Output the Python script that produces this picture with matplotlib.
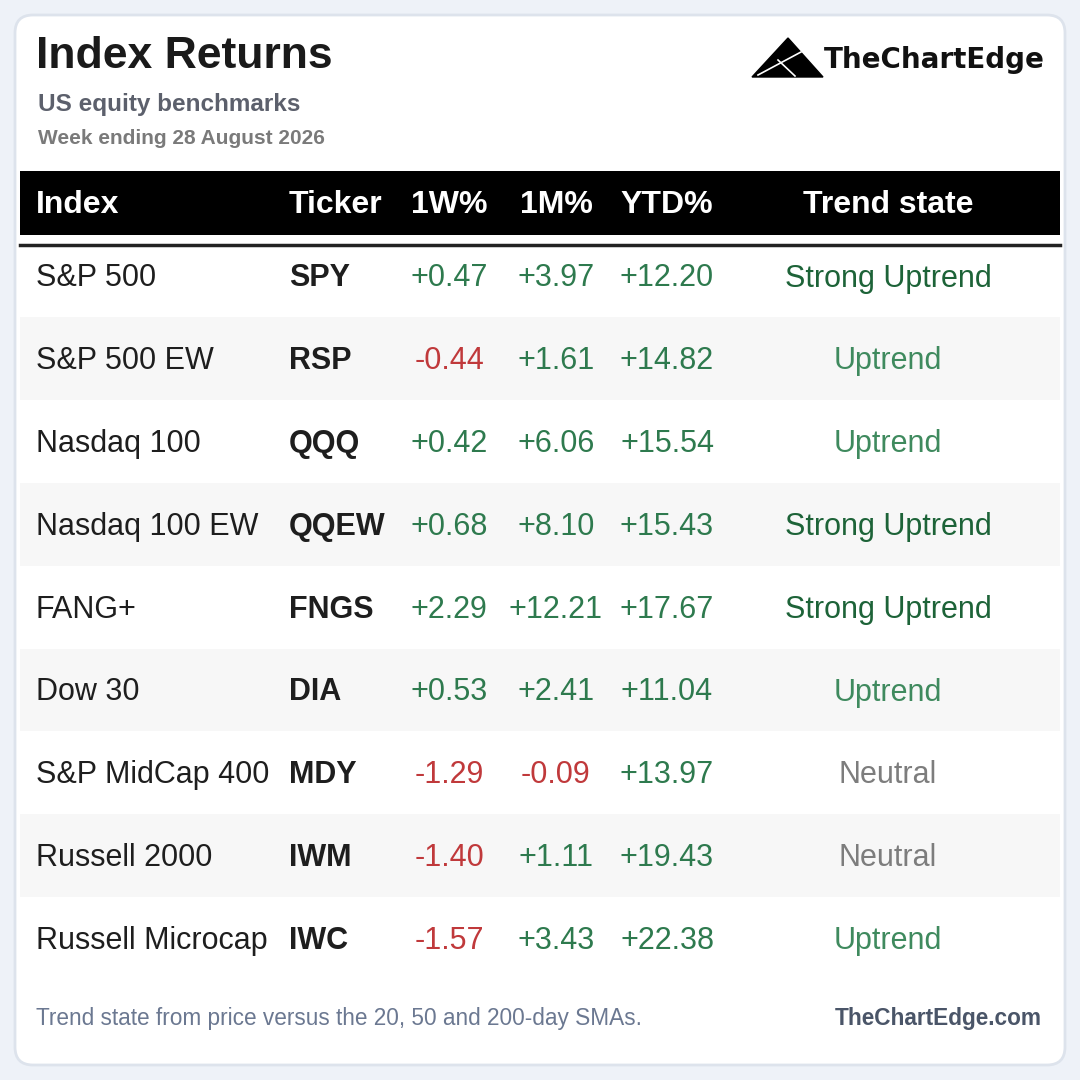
import matplotlib.pyplot as plt
from matplotlib.patches import FancyBboxPatch, Rectangle, Polygon

names = ["S&P 500", "S&P 500 EW", "Nasdaq 100", "Nasdaq 100 EW", "FANG+", "Dow 30",
         "S&P MidCap 400", "Russell 2000", "Russell Microcap"]
tickers = ["SPY", "RSP", "QQQ", "QQEW", "FNGS", "DIA", "MDY", "IWM", "IWC"]
w1 = [0.47, -0.44, 0.42, 0.68, 2.29, 0.53, -1.29, -1.40, -1.57]
m1 = [3.97, 1.61, 6.06, 8.10, 12.21, 2.41, -0.09, 1.11, 3.43]
ytd = [12.20, 14.82, 15.54, 15.43, 17.67, 11.04, 13.97, 19.43, 22.38]
trend = ["Strong Uptrend", "Uptrend", "Uptrend", "Strong Uptrend", "Strong Uptrend",
         "Uptrend", "Neutral", "Neutral", "Uptrend"]

GREEN = "#2e7a4e"
RED = "#c0393b"
TREND_COL = {"Strong Uptrend": "#1d6338", "Uptrend": "#3f8a5e", "Neutral": "#7d7d7d"}

plt.rcParams['font.family'] = ['Liberation Sans', 'DejaVu Sans']
fig = plt.figure(figsize=(10.8, 10.8), dpi=100)
fig.patch.set_facecolor("#eef2f8")
ax = fig.add_axes([0, 0, 1, 1])
ax.set_xlim(0, 1080)
ax.set_ylim(1080, 0)
ax.axis("off")

ax.add_patch(FancyBboxPatch((15, 15), 1050, 1050, boxstyle="round,pad=0,rounding_size=18",
                            fc="white", ec="#dde3ec", lw=2))

ax.text(36, 57, "Index Returns", fontsize=32, fontweight="bold", color="#1a1a1a", va="center")
ax.text(38, 104, "US equity benchmarks", fontsize=17.5, fontweight="bold", color="#5c606c", va="center")
ax.text(38, 139, "Week ending 28 August 2026", fontsize=15, fontweight="bold", color="#7a7a7a", va="center")

# logo
ax.add_patch(Polygon([(752, 77), (788, 38), (823, 77)], closed=True, fc="black", ec="black"))
ax.plot([758, 801], [75, 52], color="white", lw=1.2)
ax.plot([778, 795], [60, 76], color="white", lw=1.2)
ax.text(824, 60, "TheChartEdge", fontsize=20, fontweight="bold", color="#111111", va="center",
        family=["DejaVu Sans"])

# header band
ax.add_patch(Rectangle((20, 171), 1040, 64, fc="black", ec="none"))
hy = 205
hdr = dict(fontsize=23, fontweight="bold", color="white", va="center")
ax.text(36, hy, "Index", ha="left", **hdr)
ax.text(289, hy, "Ticker", ha="left", **hdr)
ax.text(449, hy, "1W%", ha="center", **hdr)
ax.text(556, hy, "1M%", ha="center", **hdr)
ax.text(667, hy, "YTD%", ha="center", **hdr)
ax.text(888, hy, "Trend state", ha="center", **hdr)
ax.plot([20, 1060], [245, 245], color="#222222", lw=2.5)

def fmt(v):
    return f"{v:+.2f}"

row_h = 82.8
for i in range(len(names)):
    y = 276 + i * row_h
    if i % 2 == 1:
        ax.add_patch(Rectangle((20, y - row_h / 2), 1040, row_h, fc="#f7f7f7", ec="none"))
    ty = y + 2.5
    ax.text(36, ty, names[i], fontsize=22, color="#1e1e1e", va="center", ha="left")
    ax.text(289, ty, tickers[i], fontsize=22, fontweight="bold", color="#1e1e1e", va="center", ha="left")
    for x, v in [(449, w1[i]), (556, m1[i]), (667, ytd[i])]:
        ax.text(x, ty, fmt(v), fontsize=22, color=GREEN if v >= 0 else RED, va="center", ha="center")
    ax.text(888, ty, trend[i], fontsize=22, color=TREND_COL[trend[i]], va="center", ha="center")

ax.text(36, 1018, "Trend state from price versus the 20, 50 and 200-day SMAs.", fontsize=16.3,
        color="#6b7891", va="center")
ax.text(1042, 1018, "TheChartEdge.com", fontsize=16.3, fontweight="bold", color="#4a5568",
        va="center", ha="right")

fig.savefig("out.png", dpi=100, facecolor=fig.get_facecolor())
